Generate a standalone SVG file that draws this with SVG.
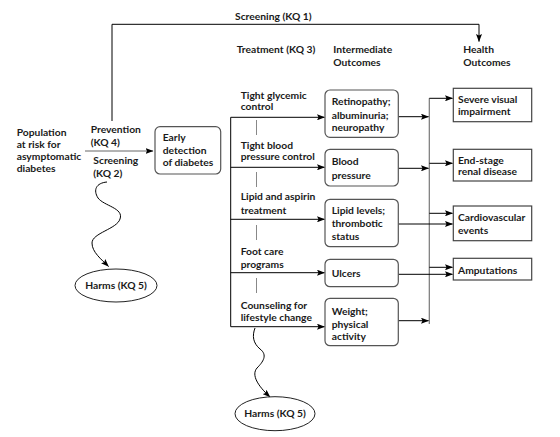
<svg xmlns="http://www.w3.org/2000/svg" width="560" height="437" viewBox="0 0 560 437">
<defs>
<marker id="ah" markerUnits="userSpaceOnUse" markerWidth="8" markerHeight="6" refX="7.5" refY="3" orient="auto">
<path d="M0,0 L8,3 L0,6 L1.5,3 z" fill="#000"/>
</marker>
<style>
text{font-family:Lato,"Noto Sans",sans-serif;font-size:10.3px;font-weight:700;fill:#1a1a1a}
.c{text-anchor:middle}
.ln{fill:none;stroke:#000;stroke-width:1}
.ar{fill:none;stroke:#000;stroke-width:1;marker-end:url(#ah)}
.gr{fill:none;stroke:#777;stroke-width:1.2}
.tick{stroke:#888;stroke-width:1}
.rb{fill:#fff;stroke:#555;stroke-width:1.2}
.sb{fill:#fff;stroke:#444;stroke-width:1.2}
.el{fill:#fff;stroke:#222;stroke-width:1}
</style>
</defs>
<rect width="560" height="437" fill="#fff"/>

<g id="connectors">
<path class="ar" d="M112,121 V24.3 H479 V41.5"/>
<path class="ar" d="M85,151 H153" style="stroke:#666"/>
<path class="ln" d="M230.7,117.3 V326.7"/>
<path class="ar" d="M230.7,117.3 H324.5"/>
<path class="ar" d="M230.7,167.3 H324.5"/>
<path class="ar" d="M230.7,219.3 H324.5"/>
<path class="ar" d="M230.7,272.7 H324.5"/>
<path class="ar" d="M230.7,326.7 H324.5"/>
<line class="tick" x1="256.5" y1="120" x2="256.5" y2="135"/>
<line class="tick" x1="256.5" y1="172" x2="256.5" y2="187"/>
<line class="tick" x1="256.5" y1="225" x2="256.5" y2="240"/>
<line class="tick" x1="256.5" y1="278" x2="256.5" y2="293"/>
<path class="gr" d="M429.3,98.3 V324"/>
<path class="ar" d="M398.3,116.7 H428.5"/>
<path class="ar" d="M398.3,168.3 H428.5"/>
<path class="ar" d="M398.3,320.7 H428.5"/>
<path class="ar" d="M398.3,224 H452.5"/>
<path class="ar" d="M398.3,274.3 H452.5"/>
<path class="ar" d="M429.3,98.3 H452.5"/>
<path class="ar" d="M429.3,163.3 H452.5"/>
<path class="ar" d="M429.3,213.3 H452.5"/>
<path class="ar" d="M429.3,267.3 H452.5"/>
<path class="ar" d="M107,182 C96,183 93,190 98,198 C104,206 124,208 120,219 C117,229 92,233 92,243 C92,252 101,259 108.5,266.5"/>
<path class="ar" d="M255,328 C252,336 253,343 260,349 C268,355 263,362 257,368 C251,375 258,386 270,397"/>
</g>

<g id="headers">
<text x="235" y="20">Screening (KQ 1)</text>
<text x="236.7" y="52.5">Treatment (KQ 3)</text>
<text x="333.3" y="52.5">Intermediate</text>
<text x="333.3" y="65.8">Outcomes</text>
<text x="463.3" y="52.5">Health</text>
<text x="463.3" y="65.8">Outcomes</text>
</g>

<g id="population">
<text x="16.7" y="135.5">Population</text>
<text x="16.7" y="147.7">at risk for</text>
<text x="16.7" y="159.9">asymptomatic</text>
<text x="16.7" y="172.1">diabetes</text>
</g>

<g id="prevention-label">
<text x="90.7" y="132.5">Prevention</text>
<text x="90.7" y="145.5">(KQ 4)</text>
</g>
<g id="screening-label">
<text x="93.3" y="163.5">Screening</text>
<text x="93.3" y="176.5">(KQ 2)</text>
</g>

<g id="early-detection">
<rect class="rb" x="155" y="126.7" width="65.7" height="47.3" rx="5"/>
<text x="162.7" y="140.8">Early</text>
<text x="162.7" y="154">detection</text>
<text x="162.7" y="166">of diabetes</text>
</g>

<g id="t-glycemic"><text x="240.7" y="98.5">Tight glycemic</text><text x="240.7" y="110.2">control</text></g>
<g id="t-bp"><text x="240.7" y="148.5">Tight blood</text><text x="240.7" y="160.2">pressure control</text></g>
<g id="t-lipid"><text x="240.7" y="200.2">Lipid and aspirin</text><text x="240.7" y="213.5">treatment</text></g>
<g id="t-foot"><text x="240.7" y="254.5">Foot care</text><text x="240.7" y="267.5">programs</text></g>
<g id="t-counsel"><text x="240.7" y="308.5">Counseling for</text><text x="240.7" y="321.2">lifestyle change</text></g>

<g id="i-retinopathy">
<rect class="rb" x="325" y="90" width="73.3" height="47.3" rx="5"/>
<text x="331.7" y="105.2">Retinopathy;</text>
<text x="331.7" y="118.5">albuminuria;</text>
<text x="331.7" y="130.8">neuropathy</text>
</g>
<g id="i-bp">
<rect class="rb" x="325" y="149.3" width="73.3" height="36.7" rx="5"/>
<text x="331.7" y="165.2">Blood</text>
<text x="331.7" y="178.5">pressure</text>
</g>
<g id="i-lipid">
<rect class="rb" x="325" y="199.3" width="73.3" height="47.4" rx="5"/>
<text x="331.7" y="214.2">Lipid levels;</text>
<text x="331.7" y="226.8">thrombotic</text>
<text x="331.7" y="239.5">status</text>
</g>
<g id="i-ulcers">
<rect class="rb" x="325" y="259.3" width="73.3" height="27.4" rx="5"/>
<text x="331.7" y="276.8">Ulcers</text>
</g>
<g id="i-weight">
<rect class="rb" x="325" y="298.3" width="73.3" height="47.4" rx="5"/>
<text x="331.7" y="314.5">Weight;</text>
<text x="331.7" y="327.5">physical</text>
<text x="331.7" y="340.2">activity</text>
</g>

<g id="h-visual">
<rect class="sb" x="453.3" y="88.3" width="78.4" height="33.4"/>
<text x="458" y="102.8">Severe visual</text>
<text x="458" y="114.5">impairment</text>
</g>
<g id="h-renal">
<rect class="sb" x="453.3" y="149.3" width="78.4" height="31.7"/>
<text x="458" y="163.5">End-stage</text>
<text x="458" y="175.2">renal disease</text>
</g>
<g id="h-cv">
<rect class="sb" x="453.3" y="206" width="78.4" height="34.7"/>
<text x="458" y="221.2">Cardiovascular</text>
<text x="458" y="234.2">events</text>
</g>
<g id="h-amp">
<rect class="sb" x="453.3" y="258.3" width="78.4" height="21.7"/>
<text x="458" y="273.5">Amputations</text>
</g>

<g id="harms-1">
<ellipse class="el" cx="116" cy="285.5" rx="41" ry="16.5"/>
<text class="c" x="116" y="289">Harms (KQ 5)</text>
</g>
<g id="harms-2">
<ellipse class="el" cx="275" cy="413.7" rx="40" ry="17"/>
<text class="c" x="275" y="417.2">Harms (KQ 5)</text>
</g>
</svg>
